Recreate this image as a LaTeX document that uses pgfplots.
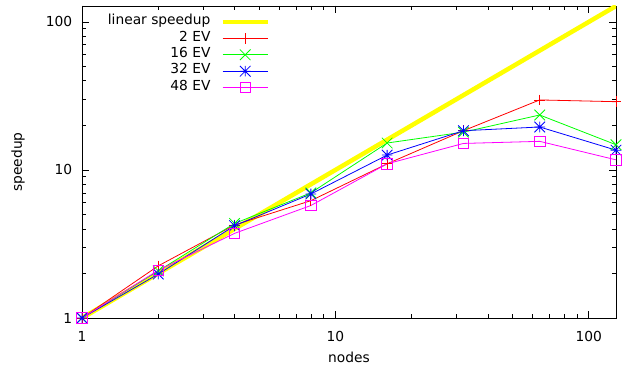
\documentclass[border=0pt]{standalone}
\usepackage{fontspec}
\setmainfont{DejaVu Sans}
\usepackage{pgfplots}
\pgfplotsset{compat=1.18}
\definecolor{gpyellow}{RGB}{255,255,0}
\definecolor{gpred}{RGB}{255,0,0}
\definecolor{gpgreen}{RGB}{0,255,0}
\definecolor{gpblue}{RGB}{0,0,255}
\definecolor{gpmag}{RGB}{255,0,255}
\makeatletter
\pgfdeclareplotmark{gpx}{%
  \pgfpathmoveto{\pgfqpoint{-\pgfplotmarksize}{-\pgfplotmarksize}}%
  \pgfpathlineto{\pgfqpoint{\pgfplotmarksize}{\pgfplotmarksize}}%
  \pgfpathmoveto{\pgfqpoint{-\pgfplotmarksize}{\pgfplotmarksize}}%
  \pgfpathlineto{\pgfqpoint{\pgfplotmarksize}{-\pgfplotmarksize}}%
  \pgfusepathqstroke}
\pgfdeclareplotmark{gpstar}{%
  \pgfpathmoveto{\pgfqpoint{-\pgfplotmarksize}{-\pgfplotmarksize}}%
  \pgfpathlineto{\pgfqpoint{\pgfplotmarksize}{\pgfplotmarksize}}%
  \pgfpathmoveto{\pgfqpoint{-\pgfplotmarksize}{\pgfplotmarksize}}%
  \pgfpathlineto{\pgfqpoint{\pgfplotmarksize}{-\pgfplotmarksize}}%
  \pgfpathmoveto{\pgfqpoint{-\pgfplotmarksize}{0pt}}%
  \pgfpathlineto{\pgfqpoint{\pgfplotmarksize}{0pt}}%
  \pgfpathmoveto{\pgfqpoint{0pt}{-\pgfplotmarksize}}%
  \pgfpathlineto{\pgfqpoint{0pt}{\pgfplotmarksize}}%
  \pgfusepathqstroke}
\makeatother
\begin{document}
\fontsize{13.8bp}{16bp}\selectfont
\begin{tikzpicture}
\begin{axis}[
  at={(0,0)}, anchor=south west,
  scale only axis, width=534bp, height=312bp,
  xmode=log, ymode=log,
  xmin=1, xmax=128, ymin=1, ymax=128,
  log ticks with fixed point,
  /pgf/number format/assume math mode=true,
  xtick={1,10,100}, ytick={1,10,100},
  tick align=inside, tick pos=both,
  major tick length=7bp, minor tick length=4bp,
  axis line style={black, line width=0.9bp},
  every tick/.style={black, line width=0.7bp},
  xticklabel style={anchor=center, inner sep=0pt, yshift=-18bp},
  yticklabel style={anchor=east, inner sep=0pt, xshift=-9.6bp},
  xlabel={nodes}, ylabel={speedup},
  every axis x label/.style={at={(axis description cs:0.5,-0.125)}, anchor=center},
  every axis y label/.style={at={(axis description cs:-0.1199,0.5)}, rotate=90, anchor=center},
  legend plot pos=right,
  legend cell align=right,
  legend style={draw=none, fill=none, inner sep=0pt, outer sep=0pt,
    at={(axis description cs:0.352,0.975)}, anchor=north east,
    row sep=0pt, column sep=10bp,
    nodes={inner sep=0pt, text height=11bp, text depth=5.4bp}},
  legend image code/.code={\draw[mark repeat=2,mark phase=2,#1] plot coordinates {(0bp,0bp) (22.5bp,0bp) (45bp,0bp)};},
  mark size=5.3bp,
]
\addplot[gpyellow, line width=4.5bp, no marks] coordinates {(1,1) (2,2) (4,4) (8,8) (16,16) (32,32) (64,64) (128,128)};
\addlegendentry{linear speedup}
\addplot[gpred, line width=0.8bp, mark=+, mark options={line width=0.8bp}] coordinates {
(1,1) (2,2.25) (4,4.25) (8,6.2) (16,11.0) (32,18.4) (64,29.7) (128,28.9)};
\addlegendentry{2 EV}
\addplot[gpgreen, line width=0.8bp, mark=gpx, mark options={line width=0.8bp}] coordinates {
(1,1) (2,2.08) (4,4.35) (8,7.0) (16,15.2) (32,18.0) (64,23.5) (128,14.8)};
\addlegendentry{16 EV}
\addplot[gpblue, line width=0.8bp, mark=gpstar, mark options={line width=0.8bp}] coordinates {
(1,1) (2,1.98) (4,4.2) (8,6.88) (16,12.6) (32,18.4) (64,19.5) (128,13.6)};
\addlegendentry{32 EV}
\addplot[gpmag, line width=0.8bp, mark=square, mark options={line width=0.8bp}] coordinates {
(1,1) (2,2.1) (4,3.73) (8,5.75) (16,11.0) (32,15.1) (64,15.6) (128,11.7)};
\addlegendentry{48 EV}
\end{axis}
\pgfresetboundingbox
\path (-82bp,-50bp) rectangle (546bp,318bp);
\end{tikzpicture}
\end{document}
